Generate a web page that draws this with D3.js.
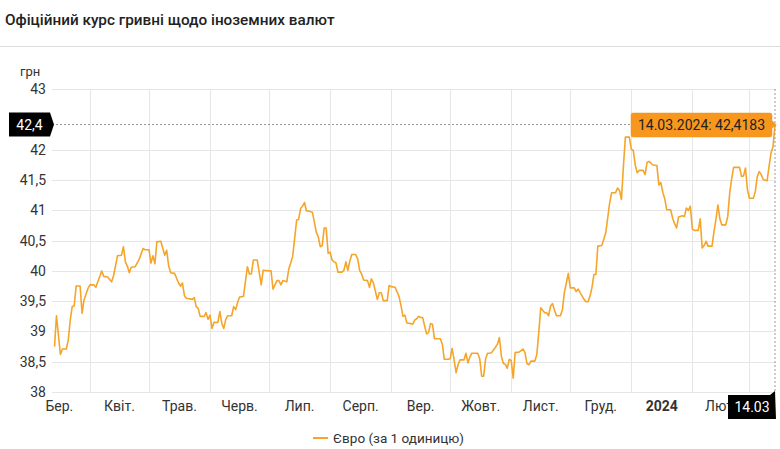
<!DOCTYPE html>
<html>
<head>
<meta charset="utf-8">
<script src="https://cdn.jsdelivr.net/npm/d3@7"></script>
<style>
	body { margin: 0; background: #fff; font-family: Roboto, "Noto Sans", sans-serif; }
</style>
</head>
<body>
<script>

// days since 14.03.2023 and the official EUR rate on that day
var days = [0, 1, 3, 4, 6, 7, 8, 9, 10, 11, 13, 14, 15, 17, 18, 20, 21, 22, 24, 25, 27, 29, 30, 32, 34, 35, 36, 37, 38, 39,
	41, 43, 45, 46, 48, 49, 50, 51, 52, 54, 56, 57, 58, 59, 61, 63, 64, 65, 66, 67, 70, 71, 72, 73, 74, 76, 77, 78, 79, 80,
	81, 83, 84, 85, 86, 87, 88, 90, 91, 92, 93, 94, 96, 98, 99, 100, 101, 103, 105, 106, 109, 110, 111, 113, 114, 115, 116, 118, 119, 120,
	121, 123, 124, 125, 126, 127, 128, 129, 131, 133, 134, 135, 136, 137, 138, 139, 140, 141, 142, 143, 144, 146, 147, 148, 149, 150,
	151, 153, 154, 155, 156, 157, 159, 160, 161, 162, 164, 165, 166, 167, 169, 170, 171, 173, 175, 176, 177, 178, 179, 181, 182, 183,
	184, 185, 186, 187, 189, 190, 191, 192, 193, 194, 196, 197, 198, 200, 201, 202, 203, 204, 205, 206, 208, 209, 210, 211, 212, 215,
	216, 217, 218, 219, 220, 221, 222, 224, 225, 226, 227, 228, 229, 230, 231, 232, 233, 234, 236, 238, 239, 240, 241, 242, 244, 245,
	246, 247, 249, 250, 251, 252, 253, 254, 255, 257, 258, 259, 260, 261, 262, 264, 265, 266, 267, 269, 270, 271, 272, 273, 274, 275,
	276, 278, 279, 280, 281, 282, 283, 285, 286, 287, 288, 289, 290, 292, 293, 294, 295, 296, 297, 299, 300, 301, 302, 304, 306, 307,
	308, 309, 310, 311, 313, 314, 315, 316, 317, 319, 320, 321, 322, 323, 324, 325, 327, 328, 329, 330, 331, 332, 334, 335, 336, 337,
	338, 339, 341, 342, 343, 344, 345, 348, 349, 350, 351, 352, 353, 355, 356, 357, 358, 359, 360, 362, 363, 364, 365, 366];

var rates = [38.75, 39.26, 38.62, 38.71, 38.71, 38.86, 39.19, 39.41, 39.42, 39.75, 39.75, 39.30, 39.52, 39.71, 39.77, 39.77, 39.73, 39.82, 40.00, 39.91, 39.90, 39.82, 39.92, 40.25, 40.26, 40.40, 40.15, 40.08, 39.97, 40.06,
	40.07, 40.19, 40.37, 40.35, 40.35, 40.13, 40.25, 40.12, 40.48, 40.49, 40.26, 40.34, 40.08, 39.97, 39.96, 39.80, 39.75, 39.80, 39.59, 39.55, 39.53, 39.56, 39.41, 39.38, 39.25, 39.25, 39.31, 39.20, 39.27, 39.05,
	39.15, 39.15, 39.33, 39.13, 39.05, 39.20, 39.26, 39.26, 39.41, 39.36, 39.48, 39.57, 39.58, 40.07, 39.95, 39.95, 40.18, 40.18, 39.77, 40.01, 40.00, 40.00, 39.70, 39.84, 39.84, 39.77, 39.84, 39.82, 40.03, 40.13,
	40.24, 40.84, 40.85, 41.03, 41.07, 41.13, 40.99, 40.99, 40.97, 40.64, 40.56, 40.40, 40.42, 40.71, 40.71, 40.29, 40.31, 40.18, 40.15, 40.13, 39.98, 39.98, 40.01, 40.15, 40.01, 40.16,
	40.27, 40.27, 40.20, 40.01, 39.95, 39.85, 39.84, 39.73, 39.87, 39.80, 39.53, 39.64, 39.64, 39.51, 39.51, 39.76, 39.74, 39.73, 39.58, 39.43, 39.25, 39.27, 39.14, 39.13, 39.12, 39.19,
	39.21, 39.25, 39.23, 39.23, 38.96, 38.98, 39.13, 39.12, 38.88, 38.88, 38.88, 38.79, 38.54, 38.54, 38.55, 38.72, 38.53, 38.32, 38.45, 38.53, 38.53, 38.64, 38.48, 38.58, 38.64, 38.64,
	38.55, 38.26, 38.26, 38.55, 38.64, 38.64, 38.65, 38.74, 38.79, 38.90, 38.59, 38.47, 38.46, 38.39, 38.54, 38.52, 38.23, 38.65, 38.66, 38.71, 38.65, 38.47, 38.45, 38.51, 38.51, 38.62,
	38.98, 39.39, 39.31, 39.31, 39.26, 39.42, 39.46, 39.35, 39.26, 39.26, 39.36, 39.64, 39.80, 39.96, 39.72, 39.72, 39.66, 39.70, 39.64, 39.53, 39.49, 39.49, 39.58, 39.72, 39.94, 39.94,
	40.41, 40.42, 40.52, 40.63, 40.87, 41.12, 41.29, 41.29, 41.37, 41.33, 41.18, 41.73, 42.21, 42.21, 42.01, 41.99, 41.75, 41.62, 41.66, 41.66, 41.59, 41.79, 41.81, 41.75, 41.74, 41.42,
	41.46, 41.30, 41.19, 41.01, 41.01, 40.87, 40.78, 40.71, 40.89, 40.91, 40.90, 41.04, 41.00, 41.07, 40.69, 40.67, 40.67, 40.86, 40.38, 40.42, 40.49, 40.41, 40.41, 40.65, 40.85, 41.09,
	40.86, 40.76, 40.76, 40.90, 41.29, 41.53, 41.71, 41.71, 41.56, 41.57, 41.70, 41.34, 41.20, 41.20, 41.31, 41.56, 41.64, 41.59, 41.51, 41.49, 41.73, 41.95, 42.05, 42.4183];

var monthLabels = ["Бер.", "Квіт.", "Трав.", "Черв.", "Лип.", "Серп.", "Вер.", "Жовт.", "Лист.", "Груд.", "2024", "Лют."];
var yTicks = [38, 38.5, 39, 39.5, 40, 40.5, 41, 41.5, 42, 43];

var startDate = new Date(2023, 2, 14);
var endDate = new Date(2024, 2, 14);

var data = days.map(function(d, i) {
	return { date: d3.timeDay.offset(startDate, d), value: rates[i] };
});

var width = 780, height = 449;
var lineColor = "#f5a52a";

var svg = d3.select("body").append("svg")
	.attr("width", width)
	.attr("height", height)
	.style("font-family", "Roboto, sans-serif");

var x = d3.scaleTime().domain([startDate, endDate]).range([54.5, 775]);
var y = d3.scaleLinear().domain([38, 43]).range([392, 89.3]);

// header
svg.append("text")
	.attr("x", 5)
	.attr("y", 25)
	.attr("font-size", 15.3)
	.attr("font-weight", 500)
	.attr("fill", "#222")
	.text("Офіційний курс гривні щодо іноземних валют");

svg.append("line")
	.attr("x1", 0).attr("x2", width)
	.attr("y1", 46.5).attr("y2", 46.5)
	.attr("stroke", "#dcdcdc");

svg.append("text")
	.attr("x", 20)
	.attr("y", 76)
	.attr("font-size", 13)
	.attr("fill", "#333")
	.text("грн");

// grid
var grid = svg.append("g");

grid.selectAll("line.h")
	.data(yTicks)
	.enter()
		.append("line")
		.attr("x1", 52).attr("x2", 776)
		.attr("y1", function(d) { return Math.round(y(d)) + 0.5; })
		.attr("y2", function(d) { return Math.round(y(d)) + 0.5; })
		.attr("stroke", "#e6e6e6");

var monthStarts = d3.timeMonth.range(new Date(2023, 2, 1), new Date(2024, 3, 1));

grid.selectAll("line.v")
	.data(monthStarts.filter(function(d) { return d > startDate; }))
	.enter()
		.append("line")
		.attr("x1", function(d) { return Math.round(x(d)) + 0.5; })
		.attr("x2", function(d) { return Math.round(x(d)) + 0.5; })
		.attr("y1", 89)
		.attr("y2", 392)
		.attr("stroke", "#e6e6e6");

// y labels
svg.selectAll("text.ytick")
	.data(yTicks)
	.enter()
		.append("text")
		.attr("x", 46)
		.attr("y", function(d) { return y(d) + 5; })
		.attr("text-anchor", "end")
		.attr("font-size", 14)
		.attr("fill", "#333")
		.text(function(d) { return String(d).replace(".", ","); });

// month labels sit in the middle of each month
svg.selectAll("text.xtick")
	.data(monthLabels)
	.enter()
		.append("text")
		.attr("x", function(d, i) { return (x(monthStarts[i]) + x(monthStarts[i + 1])) / 2; })
		.attr("y", 411)
		.attr("text-anchor", "middle")
		.attr("font-size", 14)
		.attr("font-weight", function(d) { return d === "2024" ? 700 : 400; })
		.attr("fill", "#333")
		.text(function(d) { return d; });

// series
var line = d3.line()
	.x(function(d) { return x(d.date); })
	.y(function(d) { return y(d.value); });

svg.append("path")
	.datum(data)
	.attr("d", line)
	.attr("fill", "none")
	.attr("stroke", lineColor)
	.attr("stroke-width", 1.6)
	.attr("stroke-linejoin", "round");

// crosshairs on the last point
var last = data[data.length - 1];
var lx = x(last.date), ly = y(last.value);

svg.append("line")
	.attr("x1", 52).attr("x2", lx)
	.attr("y1", ly).attr("y2", ly)
	.attr("stroke", "#999")
	.attr("stroke-dasharray", "2,2");

svg.append("line")
	.attr("x1", lx).attr("x2", lx)
	.attr("y1", 89).attr("y2", 392)
	.attr("stroke", "#999")
	.attr("stroke-dasharray", "2,2");

// y badge
svg.append("path")
	.attr("d", "M9," + (ly - 12) + "H50L54," + ly + "L50," + (ly + 12) + "H9Z")
	.attr("fill", "#000");

svg.append("text")
	.attr("x", 29.5)
	.attr("y", ly + 5)
	.attr("text-anchor", "middle")
	.attr("font-size", 14)
	.attr("fill", "#fff")
	.text(String(Math.round(last.value * 10) / 10).replace(".", ","));

// x badge
svg.append("path")
	.attr("d", "M728,395H770L" + lx + ",391L" + (lx + 1) + ",419H728Z")
	.attr("fill", "#000");

svg.append("text")
	.attr("x", 752)
	.attr("y", 412)
	.attr("text-anchor", "middle")
	.attr("font-size", 14)
	.attr("fill", "#fff")
	.text(d3.timeFormat("%d.%m")(last.date));

// tooltip
svg.append("path")
	.attr("d", "M633,113H770Q772,113 772,115V" + (ly - 4) + "L" + (lx + 1) + "," + ly + "L772," + (ly + 4) + "V135Q772,137 770,137H633Q631,137 631,135V115Q631,113 633,113Z")
	.attr("fill", "#f7971e")
	.attr("stroke", "#f39019")
	.attr("stroke-width", 0.5);

svg.append("text")
	.attr("x", 701.5)
	.attr("y", 130)
	.attr("text-anchor", "middle")
	.attr("font-size", 14)
	.attr("fill", "#222")
	.text(d3.timeFormat("%d.%m.%Y")(last.date) + ": " + String(last.value).replace(".", ","));

// legend
svg.append("line")
	.attr("x1", 313).attr("x2", 328)
	.attr("y1", 438).attr("y2", 438)
	.attr("stroke", lineColor)
	.attr("stroke-width", 2);

svg.append("text")
	.attr("x", 333)
	.attr("y", 443)
	.attr("font-size", 13.5)
	.attr("fill", "#333")
	.text("Євро (за 1 одиницю)");

</script>
</body>
</html>
